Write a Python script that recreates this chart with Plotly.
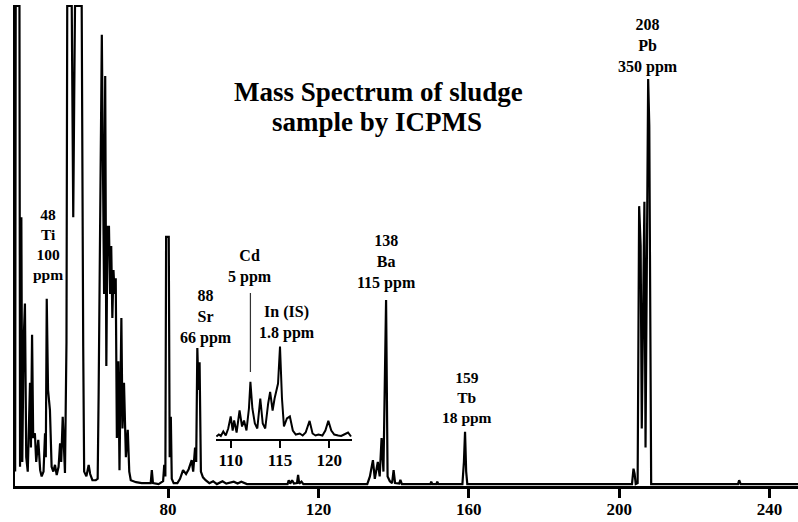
import plotly.graph_objects as go

# ---------------- data ----------------
# main spectrum profile: m/z and intensity (% of full scale)
MZ = [39.35, 39.5, 40.5, 40.65, 41.0, 41.25, 41.6, 41.95, 42.3, 42.7, 43.3, 43.55, 43.85, 44.15,
      44.6, 44.95, 45.5, 46.0, 46.4, 46.9, 47.3, 47.5, 47.75, 48.1, 48.6, 49.05, 49.5, 49.95, 50.4,
      50.9, 51.3, 51.6, 52.0, 52.6, 53.0, 53.2, 54.4, 54.6, 54.8, 55.05, 55.27, 57.05, 57.2, 57.45,
      57.7, 58.3, 58.9, 59.3, 59.9, 60.8, 61.3, 61.55, 62.4, 62.8, 63.0, 63.3, 63.6, 63.9, 64.3,
      64.6, 64.9, 65.2, 65.5, 65.8, 66.1, 66.4, 66.8, 67.1, 67.6, 67.9, 68.3, 68.8, 69.3, 69.7,
      70.1, 71.5, 73.0, 75.4, 75.7, 76.0, 77.5, 78.7, 79.0, 79.3, 79.5, 80.2, 80.45, 80.75, 81.0,
      81.5, 82.5, 83.2, 84.0, 84.8, 85.5, 86.3, 86.7, 87.2, 87.5, 87.8, 88.1, 88.4, 88.75, 89.3,
      90.0, 91.0, 92.0, 93.0, 94.5, 95.5, 97.5, 98.5, 99.5, 101.0, 108.0, 111.8, 112.1, 112.5,
      113.0, 113.5, 114.3, 114.6, 114.9, 115.5, 116.0, 133.0, 133.7, 134.5, 135.0, 135.3, 135.8,
      136.3, 136.8, 137.3, 137.7, 138.0, 138.4, 139.0, 139.6, 140.0, 140.4, 141.5, 141.8, 142.2,
      149.8, 150.0, 150.3, 151.4, 151.6, 151.9, 158.3, 158.7, 159.0, 159.3, 159.6, 203.4, 203.8,
      204.1, 204.4, 204.9, 205.3, 205.7, 206.0, 206.4, 206.7, 207.0, 207.3, 207.7, 208.0, 208.2,
      208.5, 231.6, 231.9, 232.3, 247.6]
INTENSITY = [3, 100, 100, 4, 56, 5, 30, 38, 6, 3, 21.5, 8, 31.5, 10,
             11, 5, 9.6, 3.3, 2, 3, 11, 6, 39, 20, 15.8, 4, 3, 4.4, 2.3,
             4, 8.9, 5, 14.4, 2.7, 30, 100, 100, 60, 56, 80, 100, 100, 56, 29,
             3, 2, 4.4, 2.5, 1.2, 1.2, 1.5, 19, 94, 60, 40, 85.4, 25, 54, 54,
             40, 50, 35, 45, 40, 43.3, 10, 26, 3.3, 35, 12, 21.5, 6, 11.7, 3,
             1.2, 0.8, 0.6, 0.6, 3.3, 0.6, 0.4, 1, 4.4, 2, 51.9, 51.9, 6, 14.4, 1.5,
             0.6, 0.6, 1.5, 3.3, 2.5, 3.5, 5.4, 3, 8, 5, 28.75, 20, 25.8, 3, 1.8,
             1.2, 0.6, 1, 0.4, 1, 0.5, 0.9, 0.5, 0.9, 0.4, 0.4, 0.4, 1.2, 0.5,
             1.2, 0.5, 0.6, 2.3, 0.5, 0.9, 0.4, 0.4, 2, 5.4, 1.5, 3, 5,
             2, 10, 3, 20, 38.75, 2, 1, 0.6, 3.3, 0.6, 0.5, 1.3, 0.4,
             0.4, 0.9, 0.4, 0.4, 0.9, 0.4, 0.4, 5, 11.3, 3, 0.4, 0.4, 3.6,
             2.5, 0.4, 0.6, 58.3, 50, 12, 45, 59.2, 8, 50, 84.8, 75, 40,
             0.4, 0.4, 1.2, 0.4, 0.4]

# inset (expanded 108-122 region)
INSET_MZ = [108.55, 108.8, 109.0, 109.25, 109.5, 109.75, 110.0, 110.2, 110.35, 110.6, 110.9, 111.15,
            111.35, 111.6, 111.85, 112.0, 112.2, 112.45, 112.7, 113.0, 113.25, 113.5, 113.8, 114.0,
            114.25, 114.45, 114.8, 115.0, 115.2, 115.4, 115.7, 116.0, 116.3, 116.6, 117.0, 117.3,
            117.6, 118.0, 118.3, 118.6, 118.9, 119.3, 119.6, 119.9, 120.2, 120.5, 120.9, 121.2,
            121.5, 121.9, 122.2]
INSET_INT = [2, 4, 2.5, 7, 3, 10, 22, 8, 18, 6, 28, 12,
             18, 8, 30, 56.6, 30, 15, 10, 40, 15, 10, 35, 46.6,
             28, 40, 55, 92, 40, 12, 20, 22, 8, 4, 5, 3,
             6, 17.6, 5, 3, 4, 3, 8, 17.6, 8, 4, 3, 2.5,
             4, 6, 2]

MAIN_TICKS = [80, 120, 160, 200, 240]
INSET_TICKS = [110, 115, 120]

TITLE_LINES = ["Mass Spectrum of sludge", "sample by ICPMS"]
PEAK_LABELS = {
    "Ti": ["48", "Ti", "100", "ppm"],
    "Sr": ["88", "Sr", "66 ppm"],
    "Cd": ["Cd", "5 ppm"],
    "In": ["In (IS)", "1.8 ppm"],
    "Ba": ["138", "Ba", "115 ppm"],
    "Tb": ["159", "Tb", "18 ppm"],
    "Pb": ["208", "Pb", "350 ppm"],
}

# ---------------- figure ----------------
FONT = "Liberation Serif, Times New Roman, serif"
fig = go.Figure()
fig.add_trace(go.Scatter(x=MZ, y=INTENSITY, mode="lines",
                         line=dict(color="black", width=2.2),
                         xaxis="x", yaxis="y", hoverinfo="skip"))
fig.add_trace(go.Scatter(x=INSET_MZ, y=INSET_INT, mode="lines",
                         line=dict(color="black", width=2),
                         xaxis="x2", yaxis="y2", hoverinfo="skip"))

tickfont = dict(family=FONT, size=17, color="black", weight="bold")
fig.update_layout(
    width=798, height=522,
    margin=dict(l=15, r=0, t=5, b=36),
    paper_bgcolor="white", plot_bgcolor="white",
    showlegend=False,
    xaxis=dict(range=[39.31, 247.55], tickvals=MAIN_TICKS, ticks="outside",
               ticklen=9, tickwidth=2.5, tickcolor="black", ticklabelstandoff=-3,
               showline=True, linewidth=3, linecolor="black",
               showgrid=False, zeroline=False, tickfont=tickfont),
    yaxis=dict(range=[0, 100.2], showline=True, linewidth=2, linecolor="black",
               showticklabels=False, ticks="", showgrid=False, zeroline=False),
    xaxis2=dict(domain=[0.2567, 0.4304], anchor="y2", range=[108.51, 122.3],
                tickvals=INSET_TICKS, ticks="outside", ticklen=7, tickwidth=2,
                tickcolor="black", ticklabelstandoff=-2,
                showline=True, linewidth=2, linecolor="black",
                showgrid=False, zeroline=False, tickfont=tickfont),
    yaxis2=dict(domain=[0.09875, 0.42827], anchor="x2", range=[0, 158.5],
                visible=False),
)

# Cd pointer line in the inset
fig.add_shape(type="line", xref="x2", yref="y2", x0=112.0, x1=112.0, y0=66.5, y1=145.5,
              line=dict(color="#333333", width=1.2))

annotations = []

def add_text(x, y, text, size):
    annotations.append(dict(x=x, y=y, xref="x", yref="y", text=text, showarrow=False,
                            xanchor="center", yanchor="middle",
                            font=dict(family=FONT, size=size, color="black",
                                      weight="bold")))

def add_block(x, y, lines, size=16):
    add_text(x, y, "<br>".join(lines), size)

add_text(135.85, 82.1, TITLE_LINES[0], 27)
add_text(135.6, 75.8, TITLE_LINES[1], 27)
add_block(48.1, 50.3, PEAK_LABELS["Ti"], size=15.5)
add_block(90.1, 35.2, PEAK_LABELS["Sr"])
add_block(101.8, 45.8, PEAK_LABELS["Cd"])
add_block(111.65, 34.0, PEAK_LABELS["In"])
add_block(138.0, 46.6, PEAK_LABELS["Ba"])
add_block(159.4, 18.5, PEAK_LABELS["Tb"], size=15.5)
add_block(207.66, 91.6, PEAK_LABELS["Pb"])

fig.update_layout(annotations=annotations)
fig.write_html("out.html")
